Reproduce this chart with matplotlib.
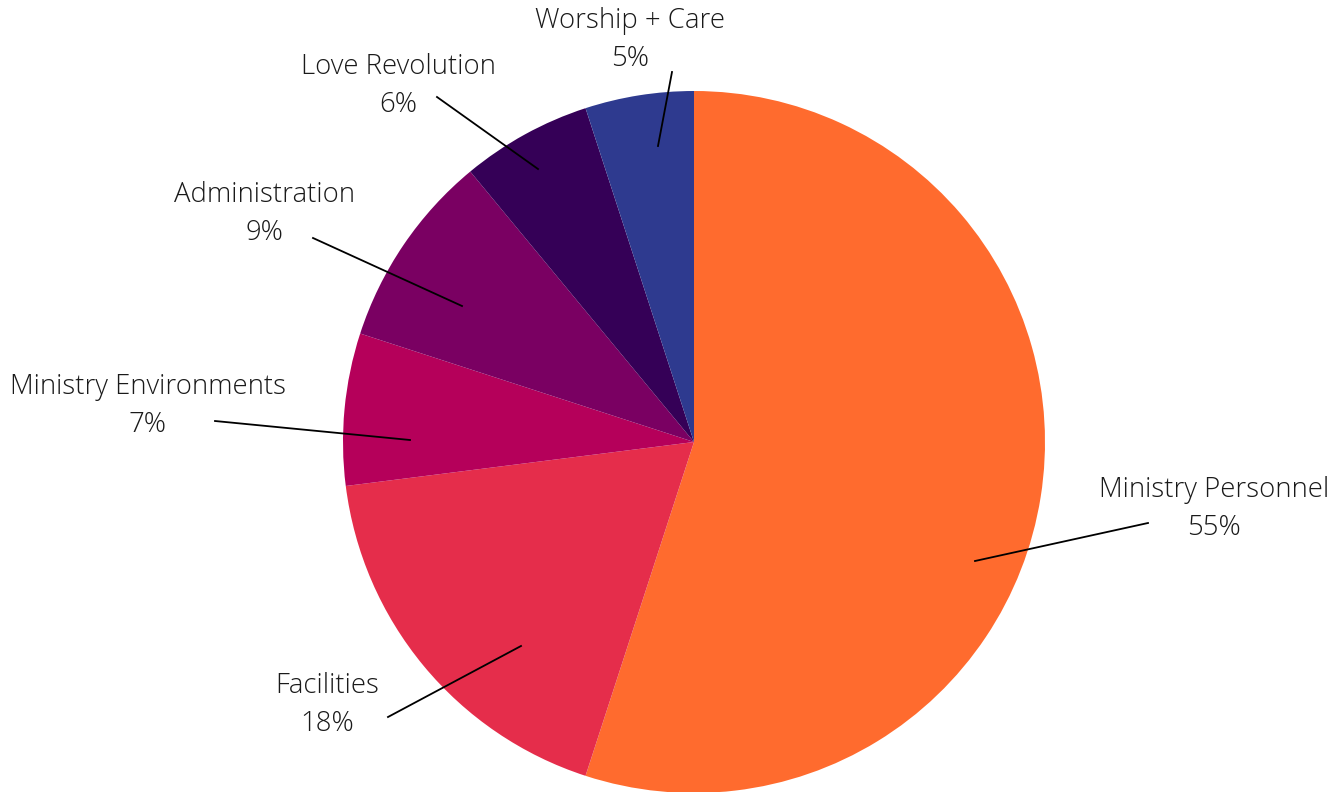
import matplotlib
matplotlib.use("Agg")
import matplotlib.pyplot as plt

categories = ["Ministry Personnel", "Facilities", "Ministry Environments",
              "Administration", "Love Revolution", "Worship + Care"]
values = [55, 18, 7, 9, 6, 5]
colors = ["#FF6B2E", "#E52D4B", "#B5005A", "#7A0062", "#350057", "#2E3A8F"]

W, H = 1339, 792
fig = plt.figure(figsize=(W / 100, H / 100), dpi=100)
ax = fig.add_axes([0, 0, 1, 1])

cx, cy, r = 694, H - 442, 351
ax.pie(values, colors=colors, startangle=90, counterclock=False,
       center=(cx, cy), radius=r, frame=True,
       wedgeprops=dict(linewidth=0))
ax.set_xlim(0, W)
ax.set_ylim(0, H)
ax.set_aspect("equal")
ax.axis("off")

# leader line (inner point, outer point) and text centre, in pixel coords (y down)
layout = [
    ((975, 561), (1148, 523), (1214, 509)),
    ((521, 646), (388, 717), (327, 705)),
    ((410, 440), (215, 421), (148, 406)),
    ((462, 306), (313, 238), (264, 214)),
    ((538, 169), (437, 97), (398, 86)),
    ((658, 146), (672, 72), (630, 40)),
]
for cat, val, (p1, p2, t) in zip(categories, values, layout):
    ax.plot([p1[0], p2[0]], [H - p1[1], H - p2[1]], color="black", lw=1.3)
    ax.text(t[0], H - t[1], f"{cat}\n{val}%", ha="center", va="center",
            fontsize=19.8, family="Open Sans", fontweight="light",
            linespacing=1.45, color="#1a1a1a")

fig.savefig("out.png", dpi=100)
